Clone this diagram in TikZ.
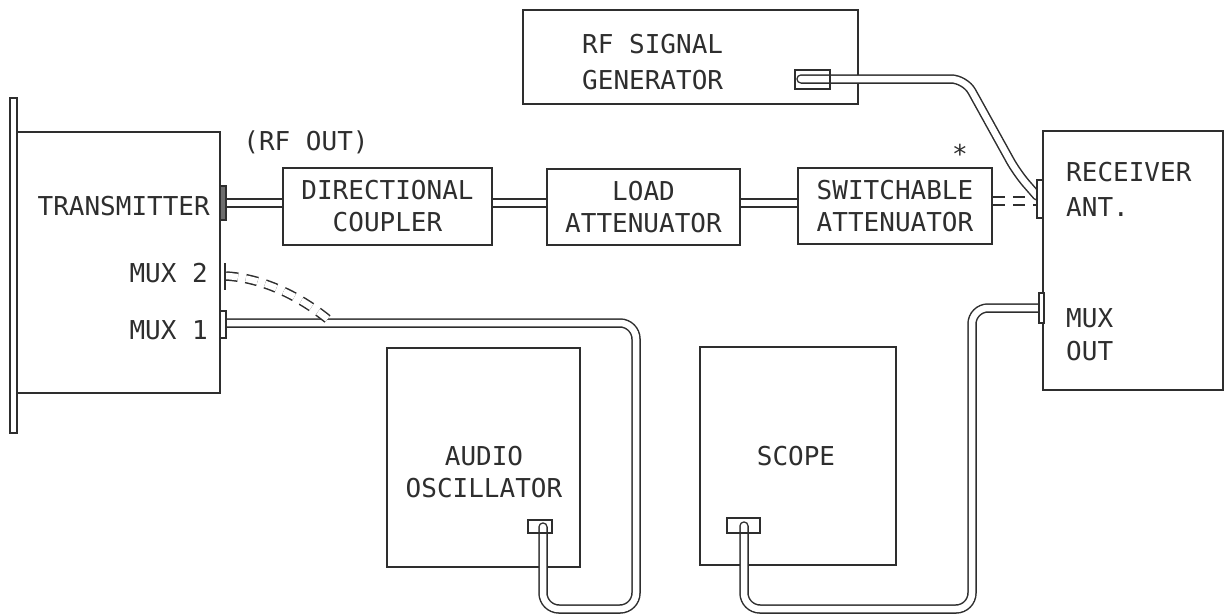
\documentclass[tikz,border=0pt]{standalone}
\usepackage{fontspec}
\newfontfamily\lbfont{DejaVu Sans Mono}
\usetikzlibrary{fit}
\definecolor{ink}{gray}{0.18}
\tikzset{
  box/.style={draw=ink, line width=1.6pt, rectangle, inner sep=0pt},
  plug/.style={draw=ink, line width=1.6pt, rectangle, inner sep=0pt, fill=white},
  lbl/.style={font=\lbfont\fontsize{26}{32}\selectfont, text=ink, align=center, inner sep=0pt},
  cable/.style={draw=ink, double=white, double distance=6.5pt, line width=1.5pt},
  dcable/.style={cable, dash pattern=on 12pt off 8pt}
}
\begin{document}
\begin{tikzpicture}[x=1pt,y=-1pt]
\useasboundingbox (0,0) rectangle (1224,616);
% boxes
\node[box, fit={(10,98)(17,433)}] (panel) {};
\node[box, fit={(17,132)(220,393)}] (tx) {};
\node[box, fit={(283,168)(492,245)}] (dc) {};
\node[box, fit={(547,169)(740,245)}] (la) {};
\node[box, fit={(798,168)(992,244)}] (sa) {};
\node[box, fit={(1043,131)(1223,390)}] (rx) {};
\node[box, fit={(523,10)(858,104)}] (rfg) {};
\node[box, fit={(387,348)(580,567)}] (ao) {};
\node[box, fit={(700,347)(896,565)}] (sc) {};
% labels
\node[lbl, anchor=east] (ttx) at (210,206) {TRANSMITTER};
\node[lbl, anchor=east] (tm2) at (208,273) {MUX 2};
\node[lbl, anchor=east] (tm1) at (208,330) {MUX 1};
\node[lbl] (trf) at (306,142) {(RF OUT)};
\node[lbl] (tdc) at (dc.center) {DIRECTIONAL\\COUPLER};
\node[lbl] (tla) at (la.center) {LOAD\\ATTENUATOR};
\node[lbl] (tsa) at (sa.center) {SWITCHABLE\\ATTENUATOR};
\node[lbl] (star) at (960,154) {*};
\node[lbl, anchor=west] (trfg1) at (582,44) {RF SIGNAL};
\node[lbl, anchor=west] (trfg2) at (582,80) {GENERATOR};
\node[lbl, anchor=west] (trx1) at (1066,172) {RECEIVER};
\node[lbl, anchor=west] (trx2) at (1066,207) {ANT.};
\node[lbl, anchor=west] (trx3) at (1066,318) {MUX};
\node[lbl, anchor=west] (trx4) at (1066,351) {OUT};
\node[lbl] (tao) at (484,472) {AUDIO\\OSCILLATOR};
\node[lbl] (tsc) at (796,456) {SCOPE};
% cables
\draw[cable] (226,203) -- (dc.west |- 0,203);
\draw[cable] (dc.east |- 0,203) -- (la.west |- 0,203);
\draw[cable] (la.east |- 0,203) -- (sa.west |- 0,203);
\draw[dcable] (sa.east |- 0,201) -- (1037,201);
\draw[cable, line cap=round, rounded corners=14pt] (801,79) -- (965,79) -- (1017,173) -- (1037,196);
\draw[cable, line cap=round, rounded corners=16pt] (226,323) -- (636,323) -- (636,609) -- (543,609) -- (543,527);
\draw[cable, line cap=round, rounded corners=16pt] (744,526) -- (744,609) -- (972,609) -- (972,308) -- (1039,308);
\draw[dcable] (226,276) .. controls (262,278) and (300,296) .. (330,321);
% connectors
\node[plug, fill=ink!70, fit={(220,186)(226,220)}] (txrf) {};
\node[plug, fit={(220,311)(226,338)}] (txm1) {};
\draw[ink, line width=1.6pt] (225,263) -- (225,290) coordinate (txm2);
\node[plug, fit={(1037,180)(1043,218)}] (rxant) {};
\node[plug, fit={(1039,293)(1044,323)}] (rxmux) {};
\node[box, fit={(795,70)(830,89)}] (rfgp) {};
\node[box, fit={(528,520)(552,533)}] (aop) {};
\node[box, fit={(727,518)(760,533)}] (scp) {};
\end{tikzpicture}
\end{document}
